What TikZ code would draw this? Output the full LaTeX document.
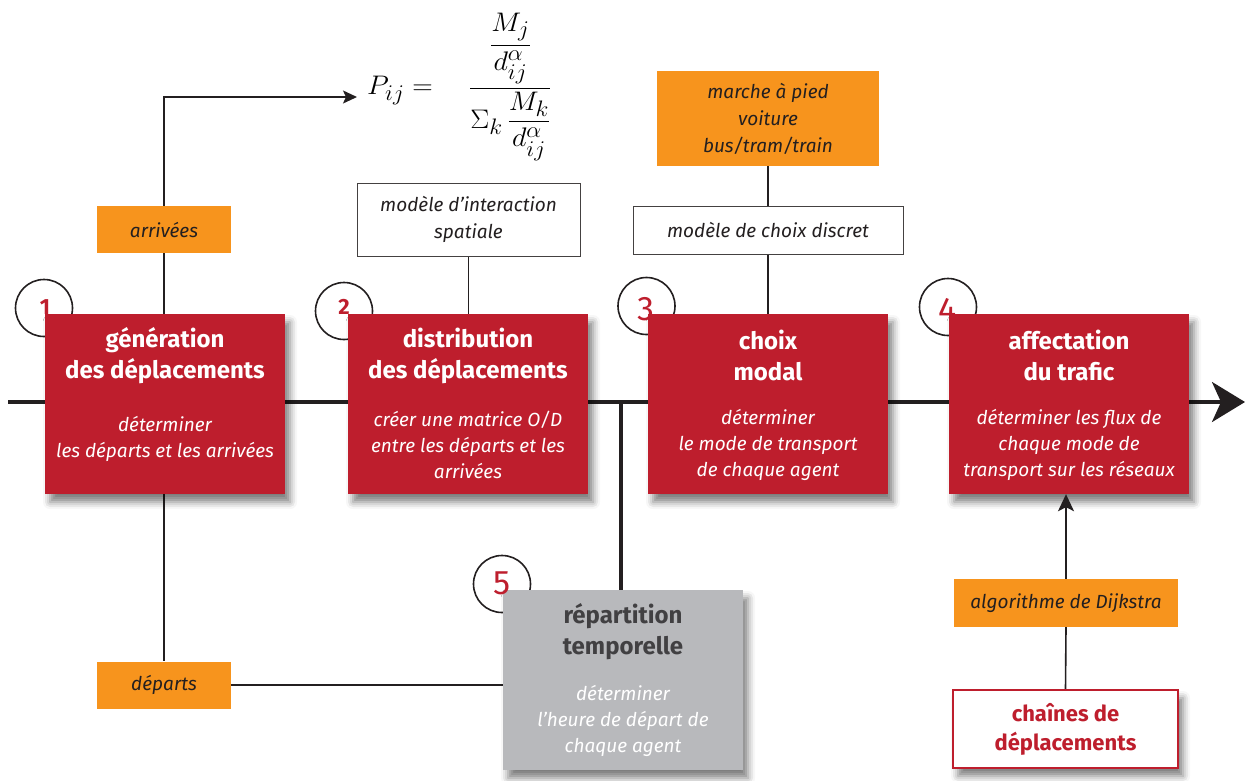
\documentclass[tikz,border=0pt]{standalone}
\usepackage{amsmath}
\usepackage{graphicx}
\usepackage{fontspec}
\setmainfont{Fira Sans}
\usetikzlibrary{shadows.blur,arrows.meta,backgrounds}
\definecolor{cred}{HTML}{BE1E2D}
\definecolor{corange}{HTML}{F7941D}
\definecolor{cgray}{HTML}{B8B9BC}
\definecolor{cdark}{HTML}{231F20}
\definecolor{cgraytxt}{HTML}{414042}
\begin{document}
\begin{tikzpicture}[x=1pt,y=-1pt,
 stage/.style={rectangle, fill=cred, minimum width=240pt, minimum height=180pt, inner sep=0pt,
   blur shadow={shadow xshift=5pt, shadow yshift=-8pt, shadow blur radius=7pt, shadow opacity=50}},
 graystage/.style={stage, fill=cgray},
 num/.style={circle, draw=cdark, line width=1.6pt, fill=white, minimum size=57pt, inner sep=0pt},
 smalldigit/.style={inner sep=0pt, text=cred, font=\bfseries\fontsize{22}{22}\selectfont},
 bigdigit/.style={inner sep=0pt, text=cred, font=\fontsize{34}{34}\selectfont},
 title/.style={text=white, font=\bfseries\fontsize{24}{31}\selectfont, align=center, inner sep=0pt},
 desc/.style={text=white, font=\itshape\fontsize{19}{26}\selectfont, align=center, inner sep=0pt},
 tag/.style={rectangle, fill=corange, inner sep=0pt, text=cdark, font=\itshape\fontsize{19}{27}\selectfont, align=center},
 note/.style={rectangle, draw=cdark!85, line width=1pt, fill=white, inner sep=0pt, text=cdark, font=\itshape\fontsize{19}{27}\selectfont, align=center},
 source/.style={rectangle, draw=cred, line width=2pt, fill=white, inner sep=0pt, text=cred, font=\bfseries\fontsize{22}{29}\selectfont, align=center,
   blur shadow={shadow xshift=5pt, shadow yshift=-8pt, shadow blur radius=7pt, shadow opacity=50}},
 link/.style={draw=cdark, line width=1.6pt},
 heavy/.style={draw=cdark, line width=3.5pt},
]
\useasboundingbox (0,0) rectangle (1245,780);

% numbered circles (behind the boxes)
\node[num] (c1) at (44,308) {};
\node[num] (c2) at (344,311) {};
\node[num] (c3) at (646.5,306) {};
\node[num] (c4) at (948,307) {};
\node[num] (c5) at (502,584) {};

% stage boxes
\node[stage] (b1) at (165,404) {};
\node[stage] (b2) at (468,404) {};
\node[stage] (b3) at (768,404) {};
\node[stage] (b4) at (1069,404) {};
\node[graystage] (b5) at (623,680) {};

% digits
\node[smalldigit] (n1) at (45,307) {1};
\node[smalldigit] (n2) at (344,307) {2};
\node[bigdigit] (n3) at (646,309) {3};
\node[bigdigit] (n4) at (948,310) {4};
\node[bigdigit] (n5) at (502,583) {5};

\node[title] (t1) at (165,355.5) {génération\\des déplacements};
\node[desc] (d1) at (165,438.5) {déterminer\\les départs et les arrivées};
\node[title] (t2) at (468,355.5) {distribution\\des déplacements};
\node[desc] (d2) at (468,445) {créer une matrice O/D\\entre les départs et les\\arrivées};
\node[title] (t3) at (768,355.5) {choix\\modal};
\node[desc] (d3) at (768,445) {déterminer\\le mode de transport\\de chaque agent};
\node[title] (t4) at (1069,355.5) {affectation\\du trafic};
\node[desc] (d4) at (1069,445) {déterminer les flux de\\chaque mode de\\transport sur les réseaux};
\node[title, text=cgraytxt] (t5) at (623,631.5) {répartition\\temporelle};
\node[desc] (d5) at (623,721) {déterminer\\l’heure de départ de\\chaque agent};

% labels
\node[tag, minimum width=134pt, minimum height=47pt] (arr) at (164,229.5) {arrivées};
\node[tag, minimum width=134pt, minimum height=47pt] (dep) at (164,685) {départs};
\node[note, minimum width=223pt, minimum height=73pt] (inter) at (468.5,219.5) {modèle d’interaction\\spatiale};
\node[tag, minimum width=222pt, minimum height=95pt] (modes) at (768,118.5) {marche à pied\\voiture\\bus/tram/train};
\node[note, minimum width=270pt, minimum height=48pt] (disc) at (768,230) {modèle de choix discret};
\node[tag, minimum width=224pt, minimum height=48pt] (dijk) at (1066,603) {algorithme de Dijkstra};
\node[source, minimum width=225pt, minimum height=78pt] (chain) at (1065.5,729) {chaînes de\\déplacements};

% formula
\node[inner sep=0pt, anchor=west] (formula) at (367,87)
  {\Huge\scalebox{1.14}[1.08]{$\displaystyle P_{ij} = \quad\frac{\dfrac{M_j}{d_{ij}^{\alpha}}}{\Sigma_k\, \dfrac{M_k}{d_{ij}^{\alpha}}}$}};
\coordinate (ftip) at (357,97);

% axis and connectors
\coordinate (axs) at (8,402);
\coordinate (axe) at (1245,402);
\coordinate (j5) at (621,402);
\begin{scope}[on background layer]
  \draw[heavy, -{Stealth[length=33pt,width=40pt,inset=9pt]}] (axs) -- (axe);
  \draw[heavy] (j5) -- (j5 |- b5.north);
  \draw[link] (b1.north -| arr.south) -- (arr.south);
  \draw[link, -{Stealth[length=14pt,width=13pt,inset=3pt]}] (arr.north) |- (ftip);
  \draw[link] (b1.south -| dep.north) -- (dep.north);
  \draw[link] (dep.east) -- (dep.east -| b5.west);
  \draw[link] (inter.south) -- (inter.south |- b2.north);
  \draw[link] (modes.south) -- (disc.north);
  \draw[link] (disc.south) -- (disc.south |- b3.north);
  \draw[link] (chain.north) -- (dijk.south);
\end{scope}
\draw[link, -{Stealth[length=17pt,width=16pt,inset=4pt]}] (dijk.north) -- (dijk.north |- b4.south);
\end{tikzpicture}
\end{document}
